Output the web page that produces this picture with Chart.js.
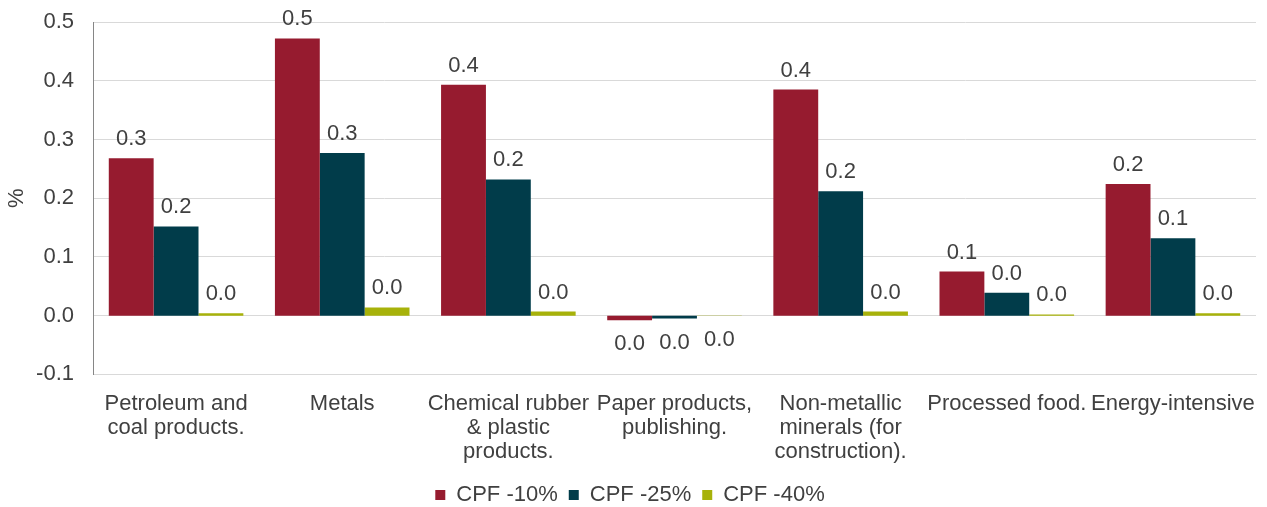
<!DOCTYPE html>
<html lang="en">
<head>
  <meta charset="UTF-8">
  <title>CPF sector impacts</title>
  <script src="https://cdn.jsdelivr.net/npm/chart.js@4.4.1/dist/chart.umd.min.js"></script>
  <style>
    body { margin: 0; background: #fff; }
    #wrap { width: 1267px; height: 507px; position: relative; }
  </style>
</head>
<body>
  <div id="wrap"><canvas id="myChart"></canvas></div>

  <script>
    // categories (multi-line labels as in the original)
    var categories = [
      ['Petroleum and', 'coal products.'],
      'Metals',
      ['Chemical rubber', '& plastic', 'products.'],
      ['Paper products,', 'publishing.'],
      ['Non-metallic', 'minerals (for', 'construction).'],
      'Processed food.',
      'Energy-intensive'
    ];

    // series values, in %
    var cpf10 = [0.268, 0.472, 0.393, -0.008, 0.385, 0.075, 0.224];
    var cpf25 = [0.152, 0.277, 0.232, -0.005, 0.212, 0.039, 0.132];
    var cpf40 = [0.004, 0.014, 0.007, -0.0005, 0.007, 0.002, 0.004];

    var seriesNames = ['CPF -10%', 'CPF -25%', 'CPF -40%'];
    var seriesColors = ['#961B2F', '#013C4A', '#A7B20A'];

    var textColor = '#404040';
    var fontFamily = '"Liberation Sans", Arial, sans-serif';
    var fontSize = 22;

    // value labels above (or below) each bar
    var valueLabels = {
      id: 'valueLabels',
      afterDatasetsDraw: function(chart) {
        var ctx = chart.ctx;
        ctx.save();
        ctx.font = fontSize + 'px ' + fontFamily;
        ctx.fillStyle = textColor;
        ctx.textAlign = 'center';
        ctx.textBaseline = 'alphabetic';
        chart.data.datasets.forEach(function(ds, i) {
          var meta = chart.getDatasetMeta(i);
          meta.data.forEach(function(bar, j) {
            var v = ds.data[j];
            var txt = Math.abs(v).toFixed(1);
            if (v >= 0) {
              ctx.fillText(txt, bar.x, bar.y - 13);
            } else {
              ctx.fillText(txt, bar.x, bar.y + 30);
            }
          });
        });
        ctx.restore();
      }
    };

    var datasets = seriesNames.map(function(name, i) {
      return {
        label: name,
        data: [cpf10, cpf25, cpf40][i],
        backgroundColor: seriesColors[i],
        borderWidth: 0,
        categoryPercentage: 0.81,
        barPercentage: 1.0
      };
    });

    var ctx = document.getElementById('myChart').getContext('2d');
    var myChart = new Chart(ctx, {
      type: 'bar',
      data: { labels: categories, datasets: datasets },
      plugins: [valueLabels],
      options: {
        responsive: true,
        maintainAspectRatio: false,
        animation: false,
        layout: { padding: { top: 22, right: 11, left: 4, bottom: -9 } },
        plugins: {
          tooltip: { enabled: false },
          legend: {
            position: 'bottom',
            labels: {
              boxWidth: 10,
              boxHeight: 10,
              padding: 11,
              color: textColor,
              font: { family: fontFamily, size: fontSize }
            }
          }
        },
        scales: {
          x: {
            grid: { display: false },
            border: { color: '#D9D9D9', width: 1 },
            ticks: {
              color: textColor,
              maxRotation: 0,
              autoSkip: false,
              padding: 9,
              font: { family: fontFamily, size: fontSize, lineHeight: 1.1 }
            }
          },
          y: {
            min: -0.1,
            max: 0.5,
            afterFit: function(scale) { scale.width = 89; },
            grid: { color: '#D9D9D9', drawTicks: true, tickLength: 16, tickColor: 'rgba(0,0,0,0)' },
            border: { color: '#868686', width: 1 },
            title: {
              display: true,
              text: '%',
              color: textColor,
              font: { family: fontFamily, size: fontSize },
              padding: { top: 0, bottom: 4 }
            },
            ticks: {
              stepSize: 0.1,
              color: textColor,
              padding: 3,
              font: { family: fontFamily, size: fontSize },
              callback: function(v) {
                var n = Math.abs(v) < 1e-9 ? 0 : v;
                return n.toFixed(1);
              }
            }
          }
        }
      }
    });
  </script>
</body>
</html>
